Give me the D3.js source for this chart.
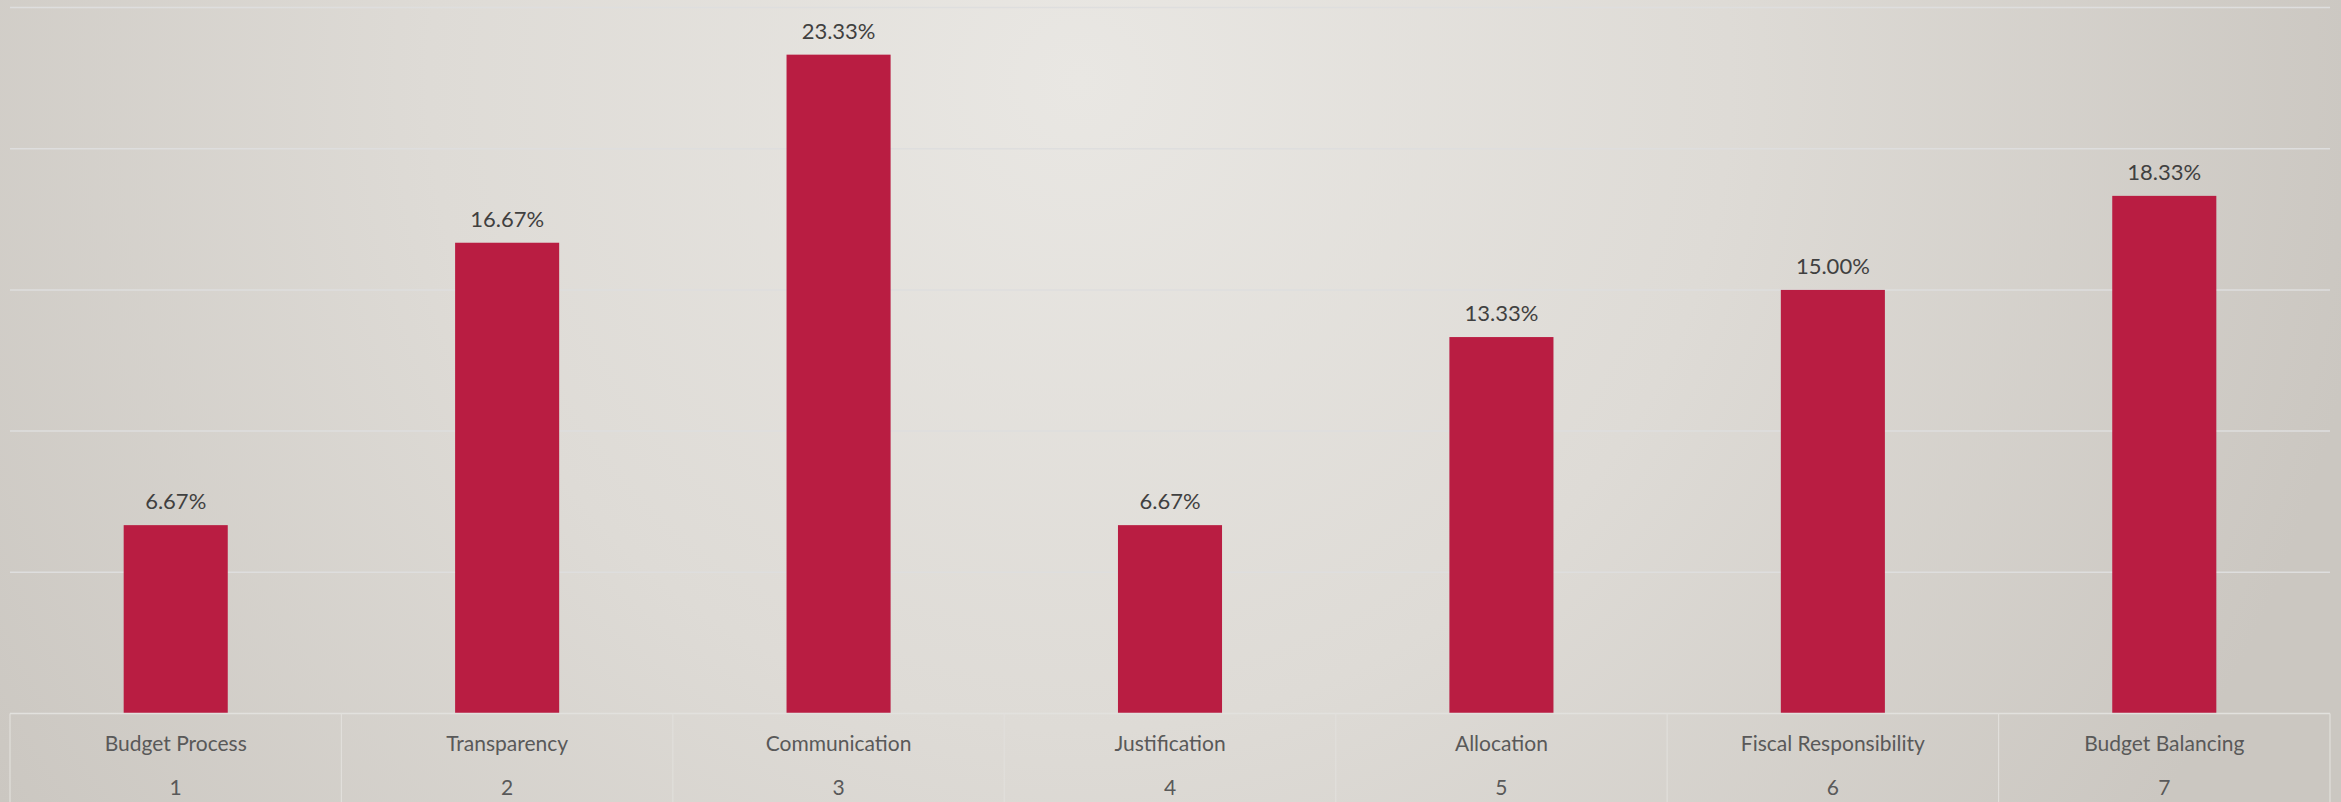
<!DOCTYPE html>
<html>
<head>
<meta charset="utf-8">
<script src="https://cdn.jsdelivr.net/npm/d3@7"></script>
<style>
  html, body { margin: 0; padding: 0; overflow: hidden; }
  svg { display: block; }
</style>
</head>
<body>
<svg id="chart"></svg>
<script>
const categories = ['Budget Process', 'Transparency', 'Communication', 'Justification', 'Allocation', 'Fiscal Responsibility', 'Budget Balancing'];
const indexLabels = ['1', '2', '3', '4', '5', '6', '7'];
const values = [6.67, 16.67, 23.33, 6.67, 13.33, 15.00, 18.33];
const gridTicks = [5, 10, 15, 20, 25];

const width = 2341, height = 802;
const margin = { left: 10, right: 11, top: 7.5 };
const baseline = 713.5;

const svg = d3.select('#chart')
  .attr('width', width)
  .attr('height', height);

// background
const defs = svg.append('defs');
const grad = defs.append('radialGradient')
  .attr('id', 'bg')
  .attr('gradientUnits', 'userSpaceOnUse')
  .attr('cx', 1080).attr('cy', 80).attr('r', 1300);
grad.append('stop').attr('offset', '0%').attr('stop-color', '#e9e7e3');
grad.append('stop').attr('offset', '50%').attr('stop-color', '#dedbd6');
grad.append('stop').attr('offset', '100%').attr('stop-color', '#cbc7c1');

svg.append('rect')
  .attr('width', width).attr('height', height)
  .attr('fill', 'url(#bg)');

const x = d3.scaleBand()
  .domain(categories)
  .range([margin.left, width - margin.right])
  .paddingInner(0.686)
  .paddingOuter(0.343);

const y = d3.scaleLinear()
  .domain([0, 25])
  .range([baseline, margin.top]);

// gridlines
svg.append('g')
  .selectAll('line')
  .data(gridTicks)
  .join('line')
    .attr('x1', margin.left)
    .attr('x2', width - margin.right)
    .attr('y1', d => y(d))
    .attr('y2', d => y(d))
    .attr('stroke', '#dedede')
    .attr('stroke-width', 1.5);

// bars
svg.append('g')
  .selectAll('rect')
  .data(values)
  .join('rect')
    .attr('x', (d, i) => x(categories[i]))
    .attr('y', d => y(d))
    .attr('width', x.bandwidth())
    .attr('height', d => y(0) - y(d))
    .attr('fill', '#b91d42');

// value labels
svg.append('g')
  .selectAll('text')
  .data(values)
  .join('text')
    .attr('x', (d, i) => x(categories[i]) + x.bandwidth() / 2)
    .attr('y', d => y(d) - 16)
    .attr('text-anchor', 'middle')
    .attr('font-family', '"Gill Sans", Lato, sans-serif')
    .attr('font-size', 22)
    .attr('fill', '#404040')
    .text(d => d.toFixed(2) + '%');

// axis table
const step = x.step();
svg.append('line')
  .attr('x1', margin.left).attr('x2', width - margin.right)
  .attr('y1', y(0)).attr('y2', y(0))
  .attr('stroke', '#e2e1de')
  .attr('stroke-width', 1.5);

svg.append('g')
  .selectAll('line')
  .data(d3.range(categories.length + 1))
  .join('line')
    .attr('x1', i => margin.left + i * step)
    .attr('x2', i => margin.left + i * step)
    .attr('y1', y(0))
    .attr('y2', height)
    .attr('stroke', '#e1dfdb')
    .attr('stroke-width', 1.2);

svg.append('g')
  .selectAll('text')
  .data(categories)
  .join('text')
    .attr('x', d => x(d) + x.bandwidth() / 2)
    .attr('y', 751)
    .attr('text-anchor', 'middle')
    .attr('font-family', '"Gill Sans", Lato, sans-serif')
    .attr('font-size', 21)
    .attr('fill', '#595959')
    .text(d => d);

svg.append('g')
  .selectAll('text')
  .data(indexLabels)
  .join('text')
    .attr('x', (d, i) => x(categories[i]) + x.bandwidth() / 2)
    .attr('y', 795)
    .attr('text-anchor', 'middle')
    .attr('font-family', '"Gill Sans", Lato, sans-serif')
    .attr('font-size', 21)
    .attr('fill', '#595959')
    .text(d => d);
</script>
</body>
</html>
